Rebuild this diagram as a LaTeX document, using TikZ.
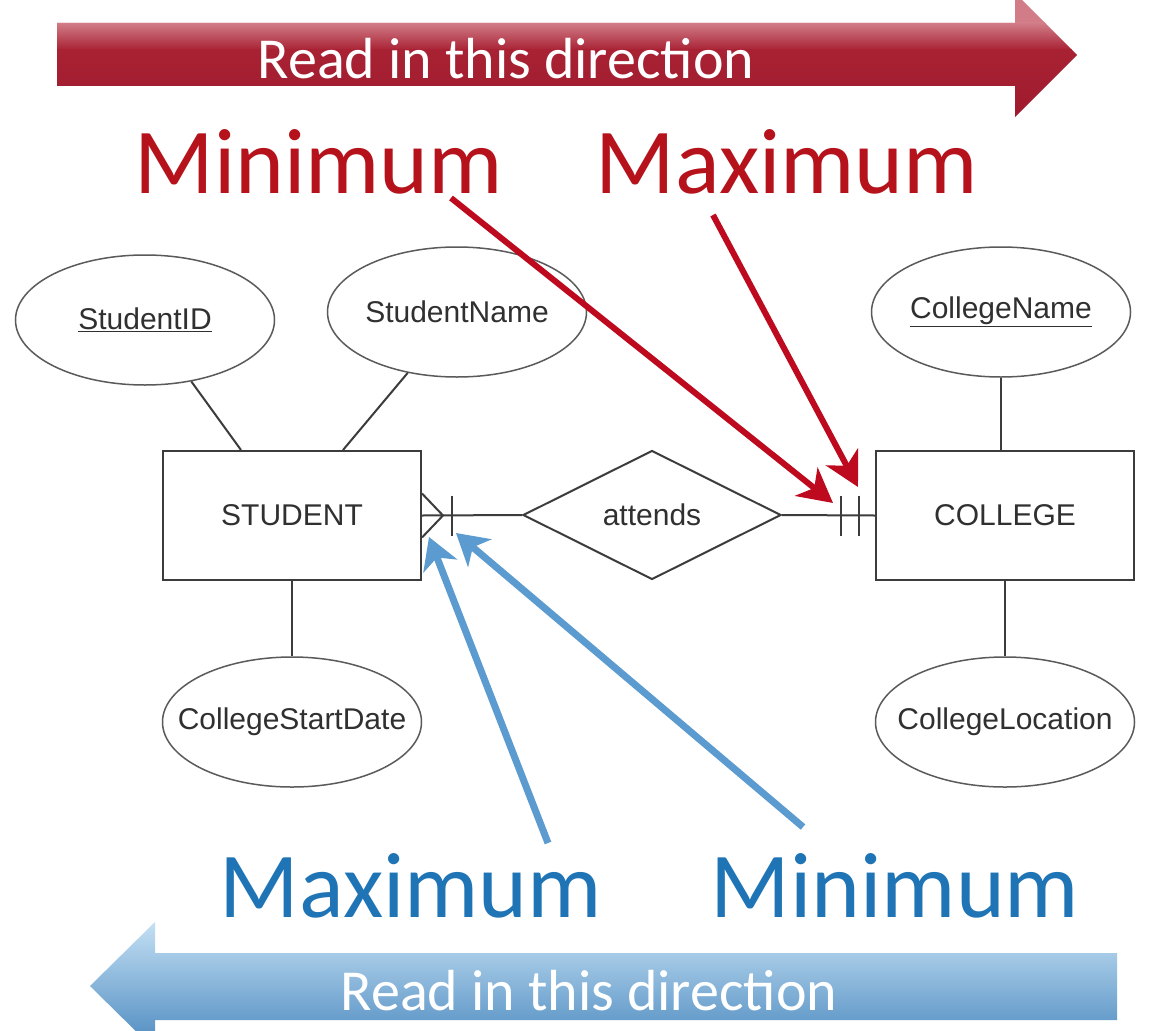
\documentclass[tikz,border=0pt]{standalone}
\usepackage{fontspec}
\setmainfont{Liberation Sans}
\newfontfamily\calib{Carlito}
\usetikzlibrary{shapes.geometric,arrows.meta}
\definecolor{erline}{HTML}{3C3C3C}
\definecolor{erellipse}{HTML}{5A5A5A}
\definecolor{ertext}{HTML}{303030}
\definecolor{redarrow}{HTML}{BE0A1E}
\definecolor{redtext}{HTML}{B5121B}
\definecolor{bluearrow}{HTML}{5B9BD0}
\definecolor{bluetext}{HTML}{1F74B6}
\definecolor{bandredtop}{HTML}{D27C88}
\definecolor{bandredmid}{HTML}{A82234}
\definecolor{bandredbot}{HTML}{9E1A2C}
\definecolor{bandbluetop}{HTML}{C4E0F4}
\definecolor{bandbluemid}{HTML}{78B0DC}
\definecolor{bandbluebot}{HTML}{4A88BE}
\begin{document}
\begin{tikzpicture}[x=1pt,y=-1pt,
  entity/.style={draw=erline,line width=2pt,rectangle,minimum width=258pt,minimum height=129pt,inner sep=0pt,text=ertext,font=\fontsize{30}{34}\selectfont},
  attr/.style={draw=erellipse,line width=1.5pt,ellipse,minimum width=259pt,minimum height=130pt,inner sep=0pt,text=ertext,font=\fontsize{30}{34}\selectfont},
  rel/.style={draw=erline,line width=2pt,diamond,minimum width=258pt,minimum height=129pt,inner sep=0pt,text=ertext,font=\fontsize{30}{34}\selectfont},
  erconn/.style={draw=erline,line width=2pt},
  bigred/.style={anchor=base,inner sep=0pt,text=redtext,font=\calib\fontsize{93}{100}\selectfont},
  bigblue/.style={anchor=base,inner sep=0pt,text=bluetext,font=\calib\fontsize{93}{100}\selectfont},
  bandtext/.style={anchor=base,inner sep=0pt,text=white,font=\calib\fontsize{58}{64}\selectfont},
  redptr/.style={draw=redarrow,line width=6pt,-{Stealth[length=34pt,width=36pt,inset=10pt]}},
  blueptr/.style={draw=bluearrow,line width=7pt,-{Stealth[length=31pt,width=36pt,inset=9pt]}}
]
\useasboundingbox (0,0) rectangle (1155,1030);
\fill[white] (0,0) rectangle (1155,1030);

% top band arrow
\begin{scope}
  \clip (57,23) -- (1015,23) -- (1015,-7) -- (1077,55) -- (1015,117) -- (1015,86) -- (57,86) -- cycle;
  \fill[bandredtop] (40,-10) rectangle (1090,24);
  \shade[top color=bandredtop,bottom color=bandredmid] (40,23) rectangle (1090,50);
  \shade[top color=bandredmid,bottom color=bandredbot] (40,49.5) rectangle (1090,120);
\end{scope}
\node[bandtext] (toptext) at (506,79) {Read in this direction};

% bottom band arrow
\shade[top color=bandbluetop,middle color=bandbluemid,bottom color=bandbluebot]
  (1117,953) -- (155,953) -- (155,922) -- (90,986) -- (155,1050) -- (155,1020) -- (1117,1020) -- cycle;
\node[bandtext] (bottext) at (589,1010) {Read in this direction};

% labels
\node[bigred] (redmin) at (319,193) {Minimum};
\node[bigred] (redmax) at (787,193) {Maximum};
\node[bigblue] (bluemax) at (411,917) {Maximum};
\node[bigblue] (bluemin) at (895,917) {Minimum};

% ER diagram
\node[entity] (student) at (292,515.5) {STUDENT};
\node[entity] (college) at (1005,515.5) {COLLEGE};
\node[rel] (att) at (652,515) {\makebox[0pt]{attends}};
\node[attr] (sid) at (145,320) {\makebox[0pt]{\underline{StudentID}}};
\node[attr] (sname) at (457,312) {\makebox[0pt]{StudentName}};
\node[attr] (csd) at (292,722) {\makebox[0pt]{CollegeStartDate}};
\node[attr] (cname) at (1001,312) {\makebox[0pt]{\underline{CollegeName}}};
\node[attr] (cloc) at (1005,722) {\makebox[0pt]{CollegeLocation}};

\draw[erconn] (sid.-53) -- ([xshift=79pt]student.north west);
\draw[erconn] (sname.-129) -- ([xshift=181pt]student.north west);
\draw[erconn] (student.south) -- (csd.north);
\draw[erconn] (cname.south) -- (cname.south |- college.north);
\draw[erconn] (college.south) -- (cloc.north);

% student side: many, one
\coordinate (cf) at ([xshift=21pt]student.east);
\draw[erconn] (student.east) -- (att.west);
\draw[erconn] ([yshift=22pt]student.east) -- (cf) -- ([yshift=-22pt]student.east);
\draw[erconn] ([xshift=30pt,yshift=20pt]student.east) -- ([xshift=30pt,yshift=-20pt]student.east);

% college side: one and only one
\draw[erconn] (att.east) -- (college.west);
\draw[erconn] ([xshift=-34pt,yshift=20pt]college.west) -- ([xshift=-34pt,yshift=-20pt]college.west);
\draw[erconn] ([xshift=-16pt,yshift=20pt]college.west) -- ([xshift=-16pt,yshift=-20pt]college.west);

% pointer arrows
\coordinate (rminS) at (451,198);
\coordinate (rminT) at (833,503);
\coordinate (rmaxS) at (713,215);
\coordinate (rmaxT) at (858,487);
\coordinate (bmaxS) at (548,843);
\coordinate (bmaxT) at (429,537);
\coordinate (bminS) at (803,827);
\coordinate (bminT) at (456,533);
\draw[redptr] (rminS) -- (rminT);
\draw[redptr] (rmaxS) -- (rmaxT);
\draw[blueptr] (bmaxS) -- (bmaxT);
\draw[blueptr] (bminS) -- (bminT);
\end{tikzpicture}
\end{document}
